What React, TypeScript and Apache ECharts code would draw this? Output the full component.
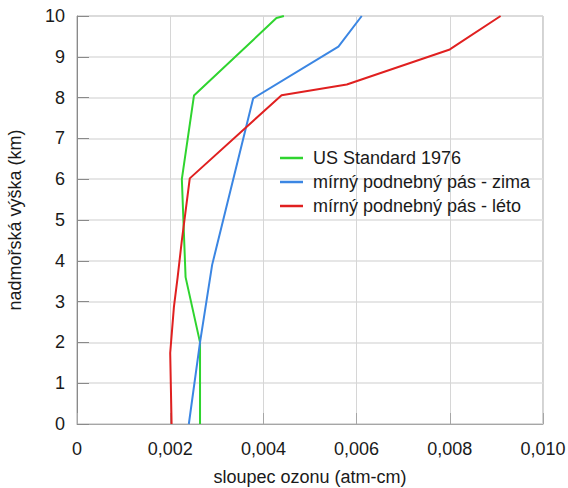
import React, { useEffect, useRef } from "react";
import * as echarts from "echarts";

// [ozone column (atm-cm), altitude (km)]
const usStandard: [number, number][] = [
  [0.00264, 0], [0.00264, 2], [0.00233, 3.6], [0.00225, 6], [0.00251, 8.05], [0.00428, 9.95], [0.00444, 10],
];
const winter: [number, number][] = [
  [0.0024, 0], [0.00264, 2], [0.0029, 3.9], [0.00378, 7.98], [0.00561, 9.25], [0.00611, 10],
];
const summer: [number, number][] = [
  [0.00203, 0], [0.002, 1.74], [0.00208, 2.87], [0.00216, 3.6], [0.00225, 4.5], [0.00242, 6.02],
  [0.00439, 8.06], [0.00579, 8.32], [0.008, 9.18], [0.00909, 10],
];
const seriesNames = ["US Standard 1976", "mírný podnebný pás - zima", "mírný podnebný pás - léto"];
const seriesColors = ["#2fd42f", "#3b86e3", "#e02020"];

export default function App() {
  const ref = useRef<HTMLDivElement>(null);
  useEffect(() => {
    if (!ref.current) return;
    const chart = echarts.init(ref.current, null, { renderer: "svg" });
    const font = "'Liberation Sans', Arial, sans-serif";
    const datasets = [usStandard, winter, summer];
    chart.setOption({
      animation: false,
      textStyle: { fontFamily: font },
      grid: {
        left: 77, right: 25, top: 16, bottom: 64, show: true, borderColor: "#a6a6a6", borderWidth: 1,
        containLabel: false, outerBoundsMode: "none",
      },
      legend: {
        orient: "vertical",
        left: 275,
        top: 144,
        icon: "rect",
        itemWidth: 23,
        itemHeight: 2.5,
        itemGap: 6,
        textStyle: { fontSize: 18, color: "#1a1a1a", fontFamily: font, lineHeight: 18, padding: [0, 0, 0, 5] },
        data: seriesNames,
      },
      xAxis: {
        type: "value",
        min: 0,
        max: 0.01,
        interval: 0.002,
        name: "sloupec ozonu (atm-cm)",
        nameLocation: "middle",
        nameGap: 44,
        nameTextStyle: { fontSize: 18, color: "#1a1a1a", fontFamily: font },
        axisLine: { show: true, lineStyle: { color: "#a6a6a6" } },
        axisTick: { show: true, inside: true, length: 11, lineStyle: { color: "#a6a6a6" } },
        axisLabel: {
          fontSize: 18,
          color: "#1a1a1a",
          margin: 16,
          fontFamily: font,
          formatter: (v: number) => (v === 0 ? "0" : v.toFixed(3).replace(".", ",")),
        },
        splitLine: { show: true, lineStyle: { color: "#d6d6d6", width: 1 } },
      },
      yAxis: {
        type: "value",
        min: 0,
        max: 10,
        interval: 1,
        name: "nadmořská výška (km)",
        nameLocation: "middle",
        nameGap: 53,
        nameTextStyle: { fontSize: 18, color: "#1a1a1a", fontFamily: font },
        axisLine: { show: true, lineStyle: { color: "#8a8a8a" } },
        axisTick: { show: true, inside: true, length: 12, lineStyle: { color: "#8a8a8a" } },
        axisLabel: { fontSize: 18, color: "#1a1a1a", margin: 12, fontFamily: font },
        splitLine: { show: true, lineStyle: { color: "#dedede", width: 1.5 } },
      },
      series: datasets.map((d, i) => ({
        name: seriesNames[i],
        type: "line",
        data: d,
        symbol: "none",
        color: seriesColors[i],
        itemStyle: { color: seriesColors[i] },
        lineStyle: { width: 2, color: seriesColors[i] },
      })),
    });
    return () => chart.dispose();
  }, []);
  return (
    <div
      ref={ref}
      style={{ position: "absolute", left: 0, top: 0, width: 568, height: 488, background: "#fff" }}
    />
  );
}
